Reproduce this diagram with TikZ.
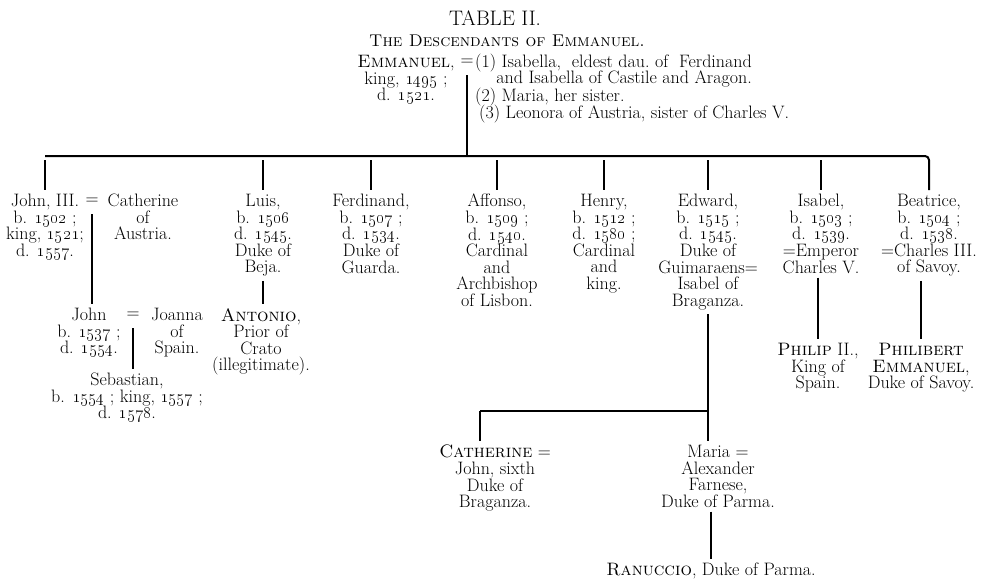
\documentclass[tikz,border=0pt]{standalone}
\usepackage{tikz}
\newcommand{\yr}[1]{\oldstylenums{#1}}
\newcommand{\pfont}{\fontsize{18}{16.6}\selectfont}
\tikzset{
  person/.style={align=center, anchor=north, inner sep=0pt, font=\pfont},
  plain/.style={inner sep=0pt, font=\pfont},
  wed/.style={inner sep=0pt, font=\pfont},
  bar/.style={line width=2pt, rounded corners=4pt},
  stem/.style={line width=1.1pt, shorten <=4pt, shorten >=4pt}
}

\begin{document}
\begin{tikzpicture}[x=1pt, y=-1pt]
  \useasboundingbox (0,0) rectangle (1000,587);

  \node[inner sep=0pt, font=\fontsize{21}{24}\selectfont] (title) at (495,18) {TABLE II.};
  \node[inner sep=0pt, font=\fontsize{17}{18}\selectfont] (subtitle) at (507,41) {\textsc{The Descendants of Emmanuel.}};

  \node[person] (emmanuel) at (406,55) {\textsc{Emmanuel},\\king, \yr{1495} ;\\d. \yr{1521}.};
  \node[wed] (m0) at (467,62) {=};
  \node[plain, anchor=base west] (wife1) at (475,67) {(1) Isabella, \ eldest dau.\ of \ Ferdinand};
  \node[plain, anchor=base east] (wife1b) at ([yshift=-16.6pt]wife1.base east) {and Isabella of Castile and Aragon.};
  \node[plain, anchor=base west] (wife2) at (475,101) {(2) Maria, her sister.};
  \node[plain, anchor=base west] (wife3) at (479,118) {(3) Leonora of Austria, sister of Charles V.};

  % children of Emmanuel
  \node[person] (john3) at (45,194) {John, III.\\b. \yr{1502} ;\\king, \yr{1521};\\d. \yr{1557}.};
  \node[wed] (m1) at (92,201) {=};
  \node[person] (catherine3) at (143,194) {Catherine\\of\\Austria.};
  \node[person] (luis) at (263,194) {Luis,\\b. \yr{1506}\\d. \yr{1545}.\\Duke of\\Beja.};
  \node[person] (ferdinand) at (371,194) {Ferdinand,\\b. \yr{1507} ;\\d. \yr{1534}.\\Duke of\\Guarda.};
  \node[person] (affonso) at (497,194) {Affonso,\\b. \yr{1509} ;\\d. \yr{1540}.\\Cardinal\\and\\Archbishop\\of Lisbon.};
  \node[person] (henry) at (604,194) {Henry,\\b. \yr{1512} ;\\d. \yr{1580} ;\\Cardinal\\and\\king.};
  \node[person] (edward) at (708,194) {Edward,\\b. \yr{1515} ;\\d. \yr{1545}.\\Duke of\\Guimaraens=\\Isabel of\\Braganza.};
  \node[person] (isabel) at (821,194) {Isabel,\\b. \yr{1503} ;\\d. \yr{1539}.\\=Emperor\\Charles V.};
  \node[person] (beatrice) at (929,194) {Beatrice,\\b. \yr{1504} ;\\d. \yr{1538}.\\=Charles III.\\of Savoy.};

  % grandchildren
  \node[person] (john) at (89,308) {John\\b. \yr{1537} ;\\d. \yr{1554}.};
  \node[wed] (m2) at (133,315) {=};
  \node[person] (joanna) at (177,308) {Joanna\\of\\Spain.};
  \node[person] (sebastian) at (127,373) {Sebastian,\\b. \yr{1554} ; king, \yr{1557} ;\\d. \yr{1578}.};
  \node[person] (antonio) at (261,308) {\textsc{Antonio},\\Prior of\\Crato\\(illegitimate).};
  \node[person] (philip) at (818,343) {\textsc{Philip} II.,\\King of\\Spain.};
  \node[person] (philibert) at (921,343) {\textsc{Philibert}\\\textsc{Emmanuel},\\Duke of Savoy.};
  \node[person] (catherine) at (495,445) {\textsc{Catherine} =\\John, sixth\\Duke of\\Braganza.};
  \node[person] (maria) at (718,445) {Maria =\\Alexander\\Farnese,\\Duke of Parma.};
  \node[person] (ranuccio) at (711,563) {\textsc{Ranuccio}, Duke of Parma.};

  \coordinate (bar) at (0,156);
  \draw[line width=1.1pt, shorten <=10pt] (m0) -- (m0 |- bar);
  \draw[bar] (john3.north |- bar) -- (beatrice.north |- bar) -- ([yshift=4pt]beatrice.north);
  \foreach \c in {john3, luis, ferdinand, affonso, henry, edward, isabel}
    \draw[stem] (\c.north |- bar) -- (\c.north);

  \draw[stem, shorten <=10pt] (m1) -- (m1 |- john.north);
  \draw[stem, shorten <=10pt] (m2) -- (m2 |- sebastian.north);
  \draw[stem] (luis.south) -- (luis.south |- antonio.north);
  \draw[stem] (philip.north |- isabel.south) -- (philip.north);
  \draw[stem] (philibert.north |- beatrice.south) -- (philibert.north);
  \draw[stem] (edward.south) -- (edward.south |- maria.north);
  \coordinate (fork) at (edward.south |- 0,411);
  \coordinate (catup) at (480,411);
  \draw[line width=1.1pt] (fork) -- (catup);
  \draw[stem, shorten <=0pt] (catup) -- (catup |- catherine.north);
  \draw[stem] (ranuccio.north |- maria.south) -- (ranuccio.north);
\end{tikzpicture}
\end{document}
